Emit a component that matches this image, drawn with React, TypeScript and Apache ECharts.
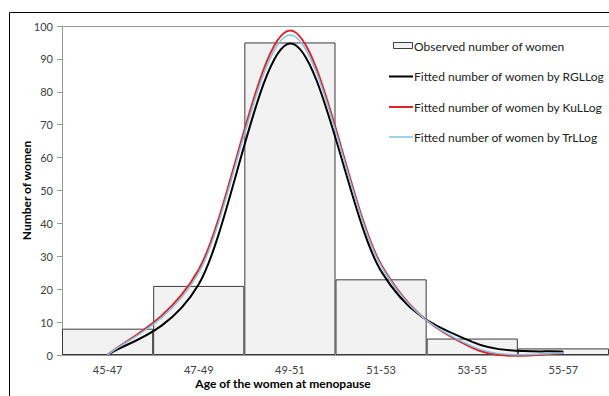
import React, { useEffect, useRef } from "react";
import * as echarts from "echarts";

const categories = ["45-47", "47-49", "49-51", "51-53", "53-55", "55-57"];
const observed = [8, 21, 95, 23, 5, 2];
const fitRGLLog = [0, 21.5, 94.7, 25.5, 4.0, 1.0];
const fitKuLLog = [0, 26, 98.6, 27.5, 2.2, 0.5];
const fitTrLLog = [0, 25, 97.3, 27, 2.6, 0.6];
const yTicks = [0, 10, 20, 30, 40, 50, 60, 70, 80, 90, 100];

const legendNames = [
  "Observed number of women",
  "Fitted number of women by RGLLog",
  "Fitted number of women by KuLLog",
  "Fitted number of women by TrLLog",
];

const FONT = "Lato, 'Open Sans', sans-serif";

function curveSeries(name: string, values: number[], color: string, width: number, z: number) {
  return {
    type: "custom",
    name,
    silent: true,
    z,
    clip: false,
    data: values.map((v, i) => [i, v]),
    encode: { x: 0, y: 1 },
    renderItem: (params: any, api: any) => {
      const i = params.dataIndex;
      if (i >= values.length - 1) return null;
      const p = values.map((v, k) => api.coord([k, v]));
      const p0 = p[Math.max(i - 1, 0)];
      const p1 = p[i];
      const p2 = p[i + 1];
      const p3 = p[Math.min(i + 2, p.length - 1)];
      return {
        type: "bezierCurve",
        shape: {
          x1: p1[0],
          y1: p1[1],
          cpx1: p1[0] + (p2[0] - p0[0]) / 6,
          cpy1: p1[1] + (p2[1] - p0[1]) / 6,
          cpx2: p2[0] - (p3[0] - p1[0]) / 6,
          cpy2: p2[1] - (p3[1] - p1[1]) / 6,
          x2: p2[0],
          y2: p2[1],
        },
        style: { stroke: color, lineWidth: width, fill: null },
      };
    },
  };
}

export default function App() {
  const ref = useRef<HTMLDivElement>(null);
  useEffect(() => {
    if (!ref.current) return;
    const chart = echarts.init(ref.current, null, { renderer: "svg" });
    const legendRows = [46, 76.5, 107, 137];
    const lineColors = ["#000000", "#e0242b", "#7ec3e3"];
    const lineWidths = [2, 2, 1.5];
    const graphic: any[] = [
      {
        type: "rect",
        shape: { x: 9.5, y: 12.5, width: 700, height: 500 },
        style: { fill: null, stroke: "#000", lineWidth: 1 },
        silent: true,
        z: -10,
      },
      {
        type: "text",
        x: 283,
        y: 383,
        style: {
          text: "Age of the women at menopause",
          font: `bold 12px ${FONT}`,
          fill: "#000",
          align: "center",
          verticalAlign: "middle",
        },
      },
      {
        type: "rect",
        shape: { x: 393.5, y: legendRows[0] - 3.5, width: 19, height: 6 },
        style: { fill: "#f2f2f2", stroke: "#404040", lineWidth: 1 },
      },
    ];
    for (let k = 0; k < 3; k++) {
      graphic.push({
        type: "line",
        shape: { x1: 389, y1: legendRows[k + 1], x2: 413, y2: legendRows[k + 1] },
        style: { stroke: lineColors[k], lineWidth: lineWidths[k] },
      });
    }
    legendNames.forEach((name, k) => {
      graphic.push({
        type: "text",
        x: 414,
        y: legendRows[k],
        style: {
          text: name,
          font: `12px ${FONT}`,
          fill: "#222",
          align: "left",
          verticalAlign: "middle",
        },
      });
    });

    chart.setOption({
      animation: false,
      textStyle: { fontFamily: FONT },
      grid: { left: 62, right: 0, top: 26, bottom: 41 },
      xAxis: [
        {
          type: "category",
          data: categories,
          boundaryGap: true,
          axisLine: { show: true, lineStyle: { color: "#9a9a9a", width: 1 } },
          axisTick: { show: false },
          axisLabel: { color: "#404040", fontSize: 11, margin: 9, fontFamily: FONT },
          splitLine: { show: false },
        },
        {
          type: "category",
          data: categories,
          position: "top",
          boundaryGap: true,
          axisLine: { show: true, lineStyle: { color: "#9a9a9a", width: 1 } },
          axisTick: { show: false },
          axisLabel: { show: false },
          splitLine: { show: false },
        },
      ],
      yAxis: {
        type: "value",
        min: yTicks[0],
        max: yTicks[yTicks.length - 1],
        interval: yTicks[1] - yTicks[0],
        name: "Number of women",
        nameLocation: "middle",
        nameRotate: 90,
        nameGap: 30,
        nameMoveOverlap: false,
        nameTextStyle: { fontWeight: "bold", fontSize: 12, color: "#000", fontFamily: FONT },
        axisLine: { show: true, lineStyle: { color: "#9a9a9a", width: 1 } },
        axisTick: { show: true, length: 5, inside: false, lineStyle: { color: "#9a9a9a" } },
        axisLabel: { color: "#404040", fontSize: 11, margin: 9, fontFamily: FONT },
        splitLine: { show: false },
      },
      graphic,
      series: [
        {
          type: "bar",
          name: legendNames[0],
          data: observed,
          barCategoryGap: "0%",
          silent: true,
          itemStyle: { color: "#f2f2f2", borderColor: "#3a3a3a", borderWidth: 1 },
          z: 1,
        },
        curveSeries(legendNames[1], fitRGLLog, lineColors[0], lineWidths[0], 3),
        curveSeries(legendNames[2], fitKuLLog, lineColors[1], lineWidths[1], 4),
        curveSeries(legendNames[3], fitTrLLog, lineColors[2], lineWidths[2], 5),
      ],
    });
    return () => chart.dispose();
  }, []);
  return (
    <div
      ref={ref}
      style={{ position: "fixed", left: 0, top: 0, width: 609, height: 396, background: "#fff" }}
    />
  );
}
